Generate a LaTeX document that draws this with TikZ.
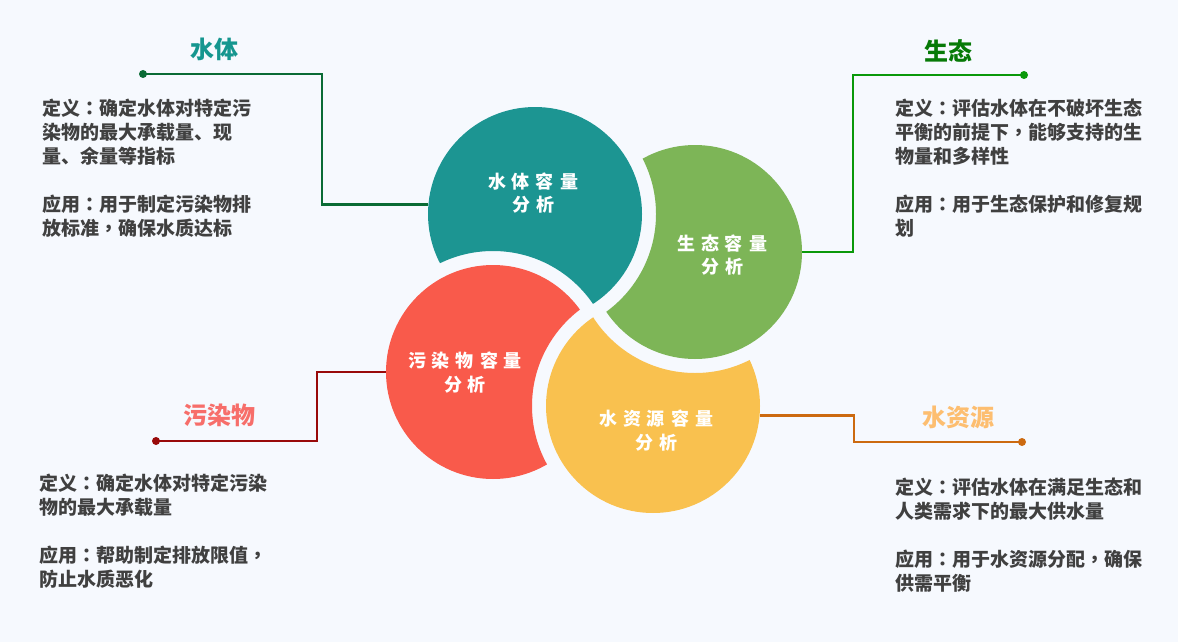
\documentclass[tikz,border=0pt]{standalone}
\usepackage{fontspec}
\setmainfont{Noto Sans CJK SC}
\newfontfamily\tcfont{Noto Sans CJK TC}
\newcommand\zcolon{{\tcfont ：}}
\newcommand\zcomma{{\tcfont ，}}
\definecolor{bg}{HTML}{F6F9FE}
\definecolor{cteal}{HTML}{1C9592}
\definecolor{cgreen}{HTML}{7DB557}
\definecolor{cred}{HTML}{F95A4B}
\definecolor{cyellow}{HTML}{F9C14F}
\definecolor{tT}{HTML}{15968F}
\definecolor{tG}{HTML}{077A07}
\definecolor{tR}{HTML}{F76E6A}
\definecolor{tY}{HTML}{FDBE70}
\definecolor{lT}{HTML}{0A6B35}
\definecolor{lG}{HTML}{0A990A}
\definecolor{lR}{HTML}{990A0A}
\definecolor{lY}{HTML}{CC6A10}
\definecolor{bodygray}{HTML}{404040}
\begin{document}
\begin{tikzpicture}[x=1pt,y=-1pt,
  body/.style={anchor=west, inner sep=0pt, font=\fontsize{19}{24}\selectfont\bfseries, text=bodygray},
  ttl/.style={inner sep=0pt, font=\fontsize{24}{28}\selectfont\bfseries},
  lbl/.style={inner sep=0pt, text=white, font=\fontsize{18}{22}\selectfont\bfseries},
  ring/.style={circle, minimum size=214pt, inner sep=0pt, draw=none},
  conn/.style={line width=2.5pt},
  dotmark/.style={circle, inner sep=0pt, minimum size=8pt}]
\useasboundingbox (0,0) rectangle (1178,642);
\fill[bg] (0,0) rectangle (1178,642);

% circle anchors
\node[ring] (tC) at (535,214) {};
\node[ring] (gC) at (695,252) {};
\node[ring] (yC) at (653,406) {};
\node[ring] (rC) at (493,372) {};

% connectors
\node[dotmark, fill=lT] (tD) at (143,74) {};
\coordinate (tK) at (322,74);
\draw[conn, lT] (tD.center) -| (tK |- tC.175) -- (tC.175);

\node[dotmark, fill=lG] (gD) at (1024,75) {};
\coordinate (gK) at (853,75);
\draw[conn, lG] (gD.center) -| (gK |- gC.east) -- (gC.east);

\node[dotmark, fill=lR] (rD) at (156,441) {};
\coordinate (rK) at (317,441);
\draw[conn, lR] (rD.center) -| (rK |- rC.west) -- (rC.west);

\node[dotmark, fill=lY] (yD) at (1022,442) {};
\coordinate (yK) at (854,442);
\draw[conn, lY] (yC.-5) -- (yK |- yC.-5) |- (yD.center);

% shapes: each circle bitten by its neighbour
\begin{scope}[even odd rule]
  \clip (0,0) rectangle (1178,642) (rC.center) circle[radius=121];
  \fill[cteal] (tC.center) circle[radius=107];
\end{scope}
\begin{scope}[even odd rule]
  \clip (0,0) rectangle (1178,642) (tC.center) circle[radius=121];
  \fill[cgreen] (gC.center) circle[radius=107];
\end{scope}
\begin{scope}[even odd rule]
  \clip (0,0) rectangle (1178,642) (gC.center) circle[radius=121];
  \fill[cyellow] (yC.center) circle[radius=107];
\end{scope}
\begin{scope}[even odd rule]
  \clip (0,0) rectangle (1178,642) (yC.center) circle[radius=121];
  \fill[cred] (rC.center) circle[radius=107];
\end{scope}

% circle labels
\node[lbl] (tL1) at (533,182) {水\kern6pt 体\kern6pt 容\kern6pt 量};
\node[lbl] (tL2) at (533,205) {分\kern6pt 析};
\node[lbl] (gL1) at (722,244) {生\kern6pt 态\kern6pt 容\kern6pt 量};
\node[lbl] (gL2) at (722,267) {分\kern6pt 析};
\node[lbl] (rL1) at (465,361) {污\kern6pt 染\kern6pt 物\kern6pt 容\kern6pt 量};
\node[lbl] (rL2) at (465,385) {分\kern6pt 析};
\node[lbl] (yL1) at (656,419) {水\kern6pt 资\kern6pt 源\kern6pt 容\kern6pt 量};
\node[lbl] (yL2) at (656,443) {分\kern6pt 析};

% titles
\node[ttl, text=tT] (tTitle) at (214,49) {水体};
\node[ttl, text=tG] (gTitle) at (948,51) {生态};
\node[ttl, text=tR] (rTitle) at (219,415) {污染物};
\node[ttl, text=tY] (yTitle) at (958,417) {水资源};

% body texts
\node[body] (t1) at (42,108) {定义\zcolon 确定水体对特定污};
\node[body] (t2) at (42,132) {染物的最大承载量、现};
\node[body] (t3) at (42,156) {量、余量等指标};
\node[body] (t4) at (42,204) {应用\zcolon 用于制定污染物排};
\node[body] (t5) at (42,228) {放标准\zcomma 确保水质达标};

\node[body] (g1) at (895,108) {定义\zcolon 评估水体在不破坏生态};
\node[body] (g2) at (895,132) {平衡的前提下\zcomma 能够支持的生};
\node[body] (g3) at (895,156) {物量和多样性};
\node[body] (g4) at (895,204) {应用\zcolon 用于生态保护和修复规};
\node[body] (g5) at (895,228) {划};

\node[body] (r1) at (39,483) {定义\zcolon 确定水体对特定污染};
\node[body] (r2) at (39,507) {物的最大承载量};
\node[body] (r3) at (39,555) {应用\zcolon 帮助制定排放限值\zcomma};
\node[body] (r4) at (39,579) {防止水质恶化};

\node[body] (y1) at (895,487) {定义\zcolon 评估水体在满足生态和};
\node[body] (y2) at (895,511) {人类需求下的最大供水量};
\node[body] (y3) at (895,559) {应用\zcolon 用于水资源分配\zcomma 确保};
\node[body] (y4) at (895,583) {供需平衡};
\end{tikzpicture}
\end{document}
